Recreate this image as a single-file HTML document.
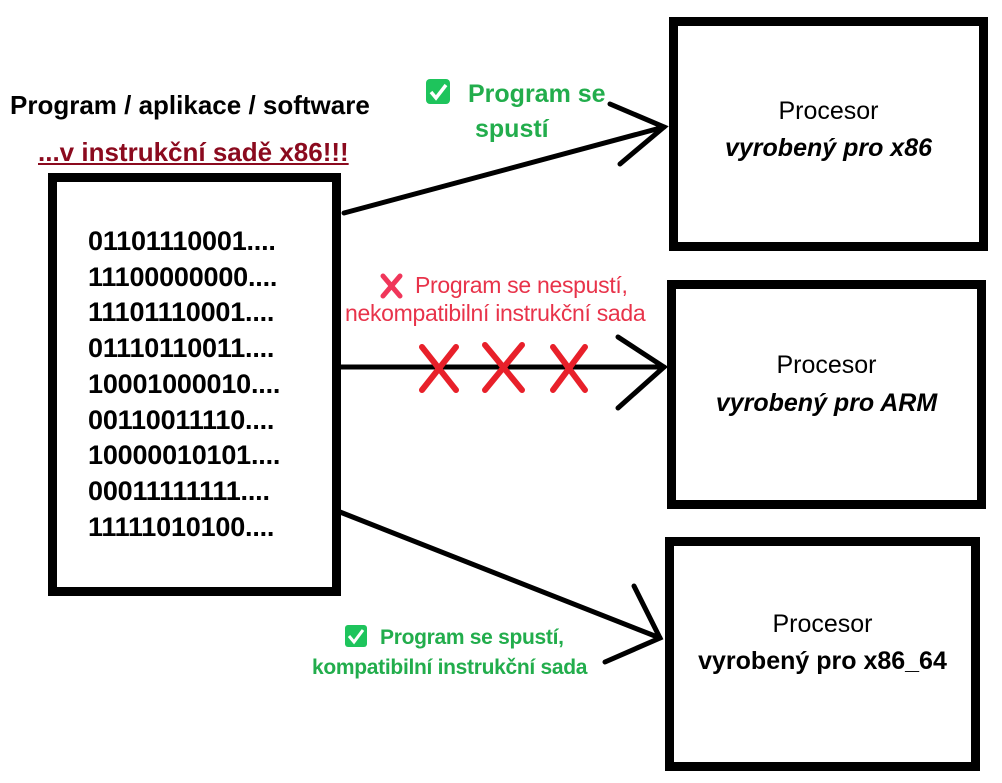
<!DOCTYPE html>
<html><head><meta charset="utf-8"><style>
body{margin:0;width:1002px;height:783px;background:#fff;position:relative;overflow:hidden;font-family:"Liberation Sans",sans-serif}
.t{position:absolute;white-space:nowrap}
.box{position:absolute;border:9px solid #000;box-sizing:border-box}
</style></head><body>
<div class="t" style="left:10px;top:90px;font-size:26px;font-weight:bold;letter-spacing:0px">Program / aplikace / software</div>
<div class="t" style="left:38px;top:137px;font-size:26px;font-weight:bold;color:#8b0a1e;text-decoration:underline;letter-spacing:0px">...v instrukční sadě x86!!!</div>
<div class="box" style="left:48px;top:173px;width:293px;height:423px"></div>
<div class="t" style="left:88px;top:224px;font-size:27px;font-weight:bold;line-height:35.7px;letter-spacing:-0.2px">01101110001....<br>11100000000....<br>11101110001....<br>01110110011....<br>10001000010....<br>00110011110....<br>10000010101....<br>00011111111....<br>11111010100....</div>
<div class="box" style="left:669px;top:17px;width:319px;height:234px"></div>
<div class="box" style="left:667px;top:280px;width:319px;height:229px"></div>
<div class="box" style="left:665px;top:537px;width:315px;height:234px"></div>
<div class="t" style="left:669px;width:319px;text-align:center;top:93px;font-size:25px;line-height:37px">Procesor<br><b><i>vyrobený pro x86</i></b></div>
<div class="t" style="left:667px;width:319px;text-align:center;top:346px;font-size:25px;line-height:38px">Procesor<br><b><i>vyrobený pro ARM</i></b></div>
<div class="t" style="left:665px;width:315px;text-align:center;top:606px;font-size:25px;line-height:37px">Procesor<br><b>vyrobený pro x86_64</b></div>
<svg width="1002" height="783" style="position:absolute;left:0;top:0">
<g stroke="#000" stroke-width="5" fill="none" stroke-linecap="round">
<line x1="344" y1="213" x2="664" y2="127"/><polyline points="610,104 664,127 620,164"/>
<line x1="340" y1="367" x2="664" y2="367"/><polyline points="618,337 664,367 618,408"/>
<line x1="340" y1="512" x2="660" y2="638"/><polyline points="634,586 660,638 605,662"/>
</g>
<g stroke="#e8202a" stroke-width="6" stroke-linecap="round">
<line x1="422" y1="347" x2="456" y2="390"/><line x1="456" y1="347" x2="422" y2="390"/>
<line x1="485" y1="345" x2="522" y2="390"/><line x1="522" y1="345" x2="485" y2="390"/>
<line x1="553" y1="347" x2="585" y2="390"/><line x1="585" y1="347" x2="553" y2="390"/>
</g>
<rect x="426" y="79" width="24" height="25" rx="4" fill="#1ec45c"/>
<polyline points="431,92 436,98 446,85" stroke="#fff" stroke-width="3.5" fill="none"/>
<rect x="345" y="625" width="22" height="22" rx="3" fill="#1ec45c"/>
<polyline points="349,636 354,642 363,630" stroke="#fff" stroke-width="3" fill="none"/>
<g stroke="#f0365a" stroke-width="5" stroke-linecap="round"><line x1="383" y1="276" x2="400" y2="296"/><line x1="400" y1="276" x2="383" y2="296"/></g>
</svg>
<div class="t" style="left:468px;top:77px;font-size:25px;font-weight:bold;color:#22ad4c;line-height:35px">Program se<br><span style="margin-left:7px">spustí</span></div>
<div class="t" style="left:345px;top:271px;font-size:23px;color:#e8334a;line-height:28px;letter-spacing:-0.3px"><span style="margin-left:70px">Program se nespustí,</span><br>nekompatibilní instrukční sada</div>
<div class="t" style="left:312px;top:623px;font-size:21px;font-weight:bold;color:#22ad4c;line-height:30px;letter-spacing:-0.3px"><span style="margin-left:68px">Program se spustí,</span><br>kompatibilní instrukční sada</div>
</body></html>
